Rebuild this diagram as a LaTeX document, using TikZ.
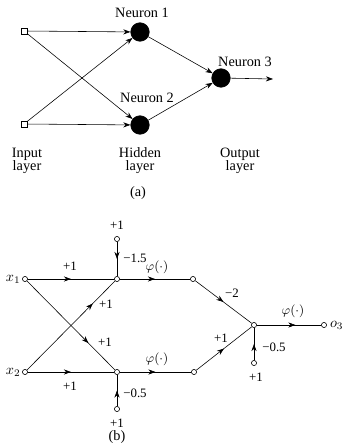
\documentclass[tikz,border=0pt]{standalone}
\usepackage{fontspec}
\setmainfont{Liberation Serif}
\usetikzlibrary{arrows.meta,decorations.markings}

\begin{document}
\begin{tikzpicture}[x=0.7pt,y=-0.7pt,>={Stealth[length=5pt,width=3.6pt]},
  neuron/.style={draw,circle,fill=black,minimum size=13pt,inner sep=0pt},
  inp/.style={draw,rectangle,fill=white,minimum size=4pt,inner sep=0pt},
  pt/.style={draw,circle,fill=white,minimum size=3.6pt,inner sep=0pt},
  wt/.style={font=\small,inner sep=1pt},
  mid arrow/.style={postaction={decorate},decoration={markings,
    mark=at position #1 with {\arrow{Stealth[length=5pt,width=3.6pt]}}}},
  mid arrow/.default=0.5]
  \useasboundingbox (0,0) rectangle (345,446);
  \node[inp] (i1) at (24,31) {};
  \node[inp] (i2) at (24,124) {};
  \node[neuron] (n1) at (140,32) {};
  \node[neuron] (n2) at (140,125) {};
  \node[neuron] (n3) at (221,78) {};
  \coordinate (out) at (273,79);
  \node (ln1) at (142,13) {Neuron 1};
  \node (ln2) at (147,98) {Neuron 2};
  \node (ln3) at (245,62) {Neuron 3};
  \draw[->] (i1)--(n1);
  \draw[->] (i1)--(n2);
  \draw[->] (i2)--(n1);
  \draw[->] (i2)--(n2);
  \draw[->] (n1)--(n3);
  \draw[->] (n2)--(n3);
  \draw[->] (n3)--(out);
  \node[align=center] (lin) at (27,161) {Input\\[-3pt]layer};
  \node[align=center] (lhid) at (140,161) {Hidden\\[-3pt]layer};
  \node[align=center] (lout) at (240,161) {Output\\[-3pt]layer};
  \node (la) at (138,193) {(a)};

  \node[pt] (x1) at (25,279) {};
  \node[pt] (x2) at (25,372) {};
  \node[pt] (j1) at (117,279) {};
  \node[pt] (j2) at (117,372) {};
  \node[pt] (b1) at (117,239) {};
  \node[pt] (b2) at (117,409) {};
  \node[pt] (h1) at (193,279) {};
  \node[pt] (h2) at (194,372) {};
  \node[pt] (j3) at (254,325) {};
  \node[pt] (b3) at (254,363) {};
  \node[pt] (o3) at (324,325) {};
  \node[anchor=east,inner sep=1pt] (lx1) at (x1.west) {$x_1$};
  \node[anchor=east,inner sep=1pt] (lx2) at (x2.west) {$x_2$};
  \node[anchor=west,inner sep=2pt] (lo3) at (o3.east) {$o_3$};
  \draw[mid arrow] (x1)--(j1);
  \draw[mid arrow] (x2)--(j2);
  \draw[mid arrow=0.75] (x2)--(j1);
  \draw[mid arrow=0.7] (x1)--(j2);
  \draw[mid arrow] (b1)--(j1);
  \draw[mid arrow] (b2)--(j2);
  \draw[mid arrow] (j1)--(h1);
  \draw[mid arrow] (j2)--(h2);
  \draw[mid arrow] (h1)--(j3);
  \draw[mid arrow] (h2)--(j3);
  \draw[mid arrow] (b3)--(j3);
  \draw[mid arrow=0.6] (j3)--(o3);
  \node[wt] (w1) at (70,266) {+1};
  \node[wt] (w2) at (70,386) {+1};
  \node[wt] (w3) at (106,304) {+1};
  \node[wt] (w4) at (105,342) {+1};
  \node[wt] (wb1) at (117,225) {+1};
  \node[wt] (wb2) at (117,423) {+1};
  \node[wt] (t1) at (135,258) {−1.5};
  \node[wt] (t2) at (135,393) {−0.5};
  \node[wt] (f1) at (157,267) {$\varphi(\cdot)$};
  \node[wt] (f2) at (157,359) {$\varphi(\cdot)$};
  \node[wt] (w5) at (232,293) {−2};
  \node[wt] (w6) at (221,338) {+1};
  \node[wt] (f3) at (293,311) {$\varphi(\cdot)$};
  \node[wt] (t3) at (274,347) {−0.5};
  \node[wt] (wb3) at (256,377) {+1};
  \node (lb) at (117,437) {(b)};
\end{tikzpicture}
\end{document}
